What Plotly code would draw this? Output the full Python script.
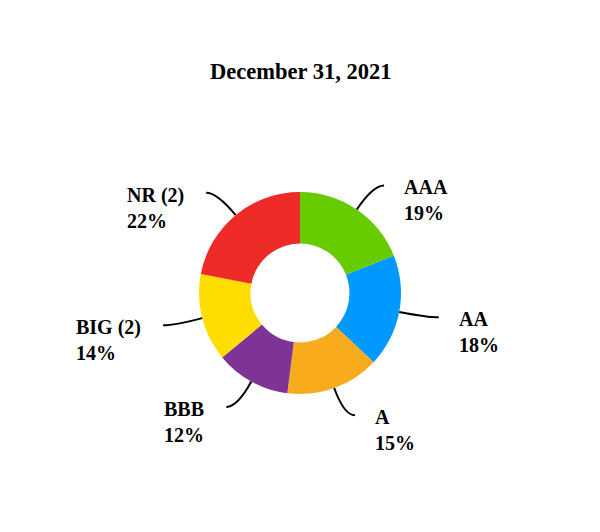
import math
import plotly.graph_objects as go

categories = ["AAA", "AA", "A", "BBB", "BIG (2)", "NR (2)"]
values = [19, 18, 15, 12, 14, 22]
colors = ["#66CC00", "#0099FF", "#F9AB1E", "#7E3396", "#FFDD00", "#EE2A26"]
title_text = "December 31, 2021"

OFF = 8  # page body margin
W, H = 600 - 2 * OFF, 532 - 2 * OFF
CX, CY, R = 300 - OFF, 293 - OFF, 101
FONT = "Liberation Serif, Times New Roman, serif"

fig = go.Figure()
fig.add_trace(go.Pie(
    labels=categories, values=values, sort=False, direction="clockwise",
    rotation=0, hole=0.49, textinfo="none", hoverinfo="label+percent",
    marker=dict(colors=colors, line=dict(width=0)),
    domain=dict(x=[(CX - R) / W, (CX + R) / W],
                y=[(H - CY - R) / H, (H - CY + R) / H]),
    showlegend=False,
))

def px(x):
    return x / W

def py(y):
    return 1 - y / H

shapes = []
annotations = []
total = sum(values)
cum = 0
R_ELBOW, HLEN = 130, 11
for cat, v in zip(categories, values):
    mid = (cum + v / 2) / total * 2 * math.pi
    cum += v
    s, c = math.sin(mid), math.cos(mid)
    x0, y0 = CX + R * s, CY - R * c
    ex, ey = CX + R_ELBOW * s, CY - R_ELBOW * c
    right = s >= 0
    x2 = ex + (HLEN if right else -HLEN)
    path = f"M {px(x0)},{py(y0)} Q {px(ex)},{py(ey)} {px(x2)},{py(ey)}"
    shapes.append(dict(type="path", path=path, xref="paper", yref="paper",
                       line=dict(color="black", width=2)))
    pct = round(v / total * 100)
    annotations.append(dict(
        text=f"<b>{cat}<br>{pct}%</b>", xref="paper", yref="paper",
        x=px(x2 + 19) if right else px(x2 - 21), y=py(ey - 10),
        xanchor="left" if right else "right", yanchor="top", align="left",
        showarrow=False, borderpad=0,
        font=dict(family=FONT, size=20, color="black"),
    ))

annotations.append(dict(
    text=f"<b>{title_text}</b>", xref="paper", yref="paper",
    x=px(300 - OFF), y=py(71 - OFF), xanchor="center", yanchor="middle",
    showarrow=False,
    font=dict(family=FONT, size=22.5, color="black"),
))

fig.update_layout(
    width=W, height=H, margin=dict(l=0, r=0, t=0, b=0),
    paper_bgcolor="white", plot_bgcolor="white",
    shapes=shapes, annotations=annotations,
)
fig.write_html("out.html")
